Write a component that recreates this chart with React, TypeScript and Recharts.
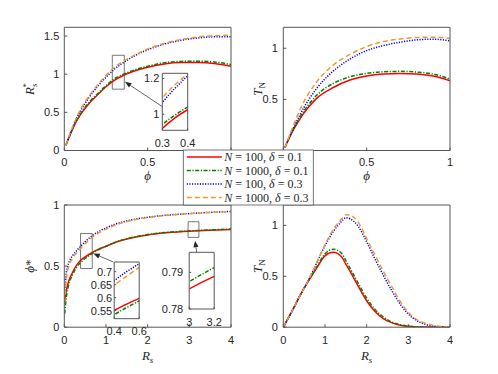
import React from 'react';
import { LineChart, Line, XAxis, YAxis, ReferenceArea, ReferenceLine, CartesianGrid } from 'recharts';

const W = 498;
const H = 374;

// ---------- data: R_s^* vs phi (top-left) ----------
const phiA = [0.01, 0.03, 0.05, 0.075, 0.1, 0.15, 0.2, 0.25, 0.3, 0.35, 0.4, 0.5, 0.6, 0.7, 0.8, 0.9, 1.0];
const rsN100d01 = [0.07, 0.18, 0.28, 0.39, 0.48, 0.62, 0.73, 0.835, 0.92, 0.98, 1.025, 1.09, 1.135, 1.152, 1.152, 1.14, 1.105];
const rsN1000d01 = [0.07, 0.185, 0.29, 0.4, 0.49, 0.635, 0.745, 0.85, 0.94, 0.995, 1.04, 1.105, 1.15, 1.168, 1.17, 1.16, 1.127];
const rsN100d03 = [0.07, 0.19, 0.3, 0.43, 0.53, 0.7, 0.84, 0.96, 1.065, 1.145, 1.215, 1.32, 1.395, 1.445, 1.475, 1.49, 1.49];
const rsN1000d03 = [0.07, 0.2, 0.31, 0.44, 0.55, 0.72, 0.86, 0.985, 1.09, 1.165, 1.225, 1.33, 1.405, 1.455, 1.488, 1.505, 1.51];

// ---------- data: T_N vs phi (top-right) ----------
const phiB = [0.01, 0.05, 0.1, 0.2, 0.3, 0.4, 0.5, 0.6, 0.7, 0.8, 0.9, 1.0];
const tnPhiN100d01 = [0.03, 0.17, 0.31, 0.51, 0.616, 0.689, 0.728, 0.748, 0.754, 0.748, 0.728, 0.682];
const tnPhiN1000d01 = [0.03, 0.175, 0.325, 0.54, 0.656, 0.721, 0.754, 0.77, 0.774, 0.767, 0.748, 0.698];
const tnPhiN100d03 = [0.03, 0.18, 0.35, 0.607, 0.777, 0.895, 0.977, 1.026, 1.059, 1.082, 1.089, 1.072];
const tnPhiN1000d03 = [0.03, 0.2, 0.4, 0.67, 0.836, 0.94, 1.016, 1.066, 1.09, 1.105, 1.108, 1.098];

// ---------- data: phi* vs R_s (bottom-left) ----------
const rsC = [0.01, 0.05, 0.1, 0.2, 0.3, 0.4, 0.5, 0.6, 0.8, 1.0, 1.25, 1.5, 2.0, 2.5, 3.0, 3.2, 3.5, 4.0];
const phN100d01 = [0.2, 0.3, 0.37, 0.45, 0.51, 0.55, 0.575, 0.597, 0.635, 0.663, 0.697, 0.722, 0.755, 0.774, 0.7855, 0.7889, 0.793, 0.8];
const phN1000d01 = [0.11, 0.25, 0.34, 0.43, 0.493, 0.533, 0.562, 0.587, 0.63, 0.662, 0.698, 0.724, 0.758, 0.777, 0.7875, 0.7913, 0.796, 0.803];
const phN100d03 = [0.3, 0.45, 0.52, 0.585, 0.628, 0.665, 0.7, 0.73, 0.778, 0.812, 0.846, 0.87, 0.9, 0.918, 0.93, 0.934, 0.94, 0.947];
const phN1000d03 = [0.2, 0.4, 0.49, 0.565, 0.61, 0.648, 0.683, 0.716, 0.766, 0.803, 0.839, 0.865, 0.897, 0.916, 0.929, 0.933, 0.939, 0.946];

// ---------- data: T_N vs R_s (bottom-right) ----------
const rsD = [0, 0.2, 0.4, 0.6, 0.8, 1.0, 1.2, 1.4, 1.5, 1.6, 1.8, 2.0, 2.2, 2.4, 2.6, 2.8, 3.0, 3.2, 3.4, 3.6, 3.8, 4.0];
const tnRsN100d01 = [0, 0.15, 0.31, 0.45, 0.58, 0.7, 0.735, 0.69, 0.62, 0.55, 0.4, 0.26, 0.155, 0.085, 0.045, 0.02, 0.009, 0.003, 0.001, 0, 0, 0];
const tnRsN1000d01 = [0, 0.15, 0.31, 0.455, 0.59, 0.72, 0.765, 0.725, 0.655, 0.58, 0.43, 0.285, 0.175, 0.1, 0.05, 0.025, 0.011, 0.004, 0.001, 0, 0, 0];
const tnRsN100d03 = [0, 0.15, 0.31, 0.46, 0.63, 0.8, 0.94, 1.04, 1.075, 1.065, 0.99, 0.84, 0.67, 0.51, 0.36, 0.23, 0.13, 0.065, 0.03, 0.012, 0.004, 0.001];
const tnRsN1000d03 = [0, 0.15, 0.31, 0.46, 0.635, 0.81, 0.96, 1.065, 1.105, 1.1, 1.03, 0.87, 0.71, 0.55, 0.4, 0.255, 0.145, 0.075, 0.04, 0.018, 0.007, 0.002];

// ---------- ticks ----------
const ticksPhi = [0, 0.5, 1];
const ticksRsStar = [0, 0.5, 1, 1.5];
const ticksTN = [0, 0.5, 1];
const ticksRs = [0, 1, 2, 3, 4];
const ticksPhiStar = [0, 0.5, 1];

const SERIES = [
  { key: 'a', n: '100', d: '0.1', color: '#ff0000', dash: undefined as string | undefined },
  { key: 'b', n: '1000', d: '0.1', color: '#008000', dash: '4 1.6 1.2 1.6' },
  { key: 'c', n: '100', d: '0.3', color: '#0000ff', dash: '1.2 1.4' },
  { key: 'd', n: '1000', d: '0.3', color: '#ef9a2f', dash: '5 3' },
];

const INK = '#262626';
const FRAME = '#555555';
const LW = 1.5;

function build(x: number[], ys: number[][]) {
  return x.map((v, i) => ({ x: v, a: ys[0][i], b: ys[1][i], c: ys[2][i], d: ys[3][i] }));
}

const dataTL = build(phiA, [rsN100d01, rsN1000d01, rsN100d03, rsN1000d03]);
const dataTR = build(phiB, [tnPhiN100d01, tnPhiN1000d01, tnPhiN100d03, tnPhiN1000d03]);
const dataBL = build(rsC, [phN100d01, phN1000d01, phN100d03, phN1000d03]);
const dataBR = build(rsD, [tnRsN100d01, tnRsN1000d01, tnRsN100d03, tnRsN1000d03]);

type Box = { l: number; r: number; t: number; b: number };

const BOX_TL: Box = { l: 64.3, r: 231, t: 27.3, b: 150.5 };
const BOX_TR: Box = { l: 283.3, r: 450, t: 27.3, b: 150.5 };
const BOX_BL: Box = { l: 64.3, r: 231, t: 205, b: 327.2 };
const BOX_BR: Box = { l: 283.3, r: 450, t: 205, b: 327.2 };
const BOX_I1: Box = { l: 162.3, r: 187.7, t: 73.3, b: 130.3 };
const BOX_I2: Box = { l: 114.2, r: 139.2, t: 262, b: 318.7 };
const BOX_I3: Box = { l: 189.2, r: 214.2, t: 252.3, b: 309 };

const Arrow = (p: any) => {
  const { x1, y1, x2, y2 } = p;
  const ang = Math.atan2(y2 - y1, x2 - x1);
  const len = 6.5;
  const w = 2.6;
  const bx = x2 - len * Math.cos(ang);
  const by = y2 - len * Math.sin(ang);
  const px = -Math.sin(ang) * w;
  const py = Math.cos(ang) * w;
  return (
    <g>
      <line x1={x1} y1={y1} x2={bx} y2={by} stroke={INK} strokeWidth={0.7} />
      <polygon points={`${x2},${y2} ${bx + px},${by + py} ${bx - px},${by - py}`} fill={INK} />
    </g>
  );
};

interface PanelProps {
  data: any[];
  box: Box;
  xDomain: [number, number];
  yDomain: [number, number];
  xTicks: number[];
  yTicks: number[];
  hideX?: number[];
  hideY?: number[];
  inset?: boolean;
  xTickMargin: number;
  yTickMargin: number;
  children?: React.ReactNode;
}

function Panel(p: PanelProps) {
  const { box } = p;
  const margin = { left: box.l - 1, top: box.t - 1, right: W - box.r - 1, bottom: H - box.b - 1 };
  const tickStyle = { fill: INK, fontSize: 11, fontFamily: 'Liberation Sans, Arial, sans-serif' };
  const ts = p.inset ? -2 : -3;
  const hx = p.hideX || [];
  const hy = p.hideY || [];
  const fx = (v: number) => (hx.includes(v) ? '' : String(v));
  const fy = (v: number) => (hy.includes(v) ? '' : String(v));
  return (
    <div style={{ position: 'absolute', left: 0, top: 0, width: W, height: H }}>
      <LineChart width={W} height={H} data={p.data} margin={margin}>
        {p.inset ? <CartesianGrid xAxisId="b" yAxisId="l" fill="#ffffff" horizontal={false} vertical={false} /> : null}
        <XAxis xAxisId="b" dataKey="x" type="number" domain={p.xDomain} ticks={p.xTicks} interval={0} height={1}
          tickSize={ts} tickMargin={p.xTickMargin} stroke={FRAME} tick={tickStyle} tickFormatter={fx} allowDataOverflow />
        <XAxis xAxisId="t" orientation="top" dataKey="x" type="number" domain={p.xDomain} ticks={p.xTicks} interval={0} height={1}
          tickSize={ts} stroke={FRAME} tick={false} allowDataOverflow />
        <YAxis yAxisId="l" type="number" domain={p.yDomain} ticks={p.yTicks} interval={0} width={1}
          tickSize={ts} tickMargin={p.yTickMargin} stroke={FRAME} tick={tickStyle} tickFormatter={fy} allowDataOverflow />
        <YAxis yAxisId="r" orientation="right" type="number" domain={p.yDomain} ticks={p.yTicks} interval={0} width={1}
          tickSize={ts} stroke={FRAME} tick={false} allowDataOverflow />
        {SERIES.map((s) => (
          <Line key={s.key} xAxisId="b" yAxisId="l" type="monotone" dataKey={s.key} stroke={s.color}
            strokeWidth={LW} strokeDasharray={s.dash} dot={false} activeDot={false} isAnimationActive={false} />
        ))}
        {p.children}
      </LineChart>
    </div>
  );
}

function Titles() {
  const serif = 'Liberation Serif, Times New Roman, serif';
  const yTitle = (cx: number, cy: number, node: React.ReactNode, key: string) => (
    <text key={key} transform={`translate(${cx},${cy}) rotate(-90)`} textAnchor="middle" fontFamily={serif} fontSize={13} fill={INK}>
      {node}
    </text>
  );
  const cxL = (BOX_TL.l + BOX_TL.r) / 2;
  const cxR = (BOX_TR.l + BOX_TR.r) / 2;
  const cyT = (BOX_TL.t + BOX_TL.b) / 2;
  const cyB = (BOX_BL.t + BOX_BL.b) / 2;
  const tn = (
    <>
      <tspan fontStyle="italic">T</tspan>
      <tspan fontSize={9} dy={3}>N</tspan>
    </>
  );
  return (
    <svg style={{ position: 'absolute', left: 0, top: 0 }} width={W} height={H}>
      {yTitle(BOX_TL.l - 30, cyT, (
        <>
          <tspan fontStyle="italic">R</tspan>
          <tspan fontSize={9} fontStyle="italic" dy={3}>s</tspan>
          <tspan fontSize={9} dx={-4} dy={-8}>*</tspan>
        </>
      ), 'tl')}
      {yTitle(BOX_TR.l - 21, cyT, tn, 'tr')}
      {yTitle(BOX_BL.l - 30, cyB, (
        <>
          <tspan fontStyle="italic">ϕ</tspan>
          <tspan>*</tspan>
        </>
      ), 'bl')}
      {yTitle(BOX_BR.l - 21, cyB, tn, 'br')}
      <text x={cxL} y={BOX_TL.b + 29} textAnchor="middle" fontFamily={serif} fontSize={13} fontStyle="italic" fill={INK}>ϕ</text>
      <text x={cxR} y={BOX_TR.b + 29} textAnchor="middle" fontFamily={serif} fontSize={13} fontStyle="italic" fill={INK}>ϕ</text>
      <text x={cxL} y={BOX_BL.b + 33} textAnchor="middle" fontFamily={serif} fontSize={13} fill={INK}>
        <tspan fontStyle="italic">R</tspan>
        <tspan fontSize={9} fontStyle="italic" dy={3}>s</tspan>
      </text>
      <text x={cxR} y={BOX_BR.b + 33} textAnchor="middle" fontFamily={serif} fontSize={13} fill={INK}>
        <tspan fontStyle="italic">R</tspan>
        <tspan fontSize={9} fontStyle="italic" dy={3}>s</tspan>
      </text>
    </svg>
  );
}

function LegendBox() {
  const x0 = 183.3;
  const y0 = 150;
  const w = 130;
  const h = 55;
  return (
    <svg style={{ position: 'absolute', left: 0, top: 0 }} width={W} height={H}>
      <rect x={x0} y={y0} width={w} height={h} fill="#ffffff" stroke={FRAME} strokeWidth={0.8} />
      {SERIES.map((s, i) => {
        const cy = y0 + 7 + i * 13.5;
        return (
          <g key={s.key}>
            <line x1={x0 + 3.5} x2={x0 + 38.5} y1={cy} y2={cy} stroke={s.color} strokeWidth={LW} strokeDasharray={s.dash} />
            <text x={x0 + 41} y={cy + 4} fontFamily="Liberation Serif, Times New Roman, serif" fontSize={12} fill={INK}>
              <tspan fontStyle="italic">N</tspan>
              <tspan>{` = ${s.n}, `}</tspan>
              <tspan fontStyle="italic">δ</tspan>
              <tspan>{` = ${s.d}`}</tspan>
            </text>
          </g>
        );
      })}
    </svg>
  );
}

export default function App() {
  return (
    <div style={{ position: 'absolute', left: 0, top: 0, width: W, height: H, background: '#ffffff', overflow: 'hidden' }}>
      <Panel data={dataTL} box={BOX_TL} xDomain={[0, 1]} yDomain={[0, 1.615]} xTicks={ticksPhi} yTicks={ticksRsStar}
        hideX={[1]} xTickMargin={11} yTickMargin={8}>
        <ReferenceArea xAxisId="b" yAxisId="l" x1={0.288} x2={0.36} y1={0.804} y2={1.248} fill="none" stroke={FRAME} strokeWidth={0.8} ifOverflow="visible" />
        <ReferenceLine xAxisId="b" yAxisId="l" segment={[{ x: 0.59, y: 0.572 }, { x: 0.364, y: 0.9 }]} ifOverflow="visible" shape={Arrow} />
      </Panel>
      <Panel data={dataTR} box={BOX_TR} xDomain={[0, 1]} yDomain={[0, 1.205]} xTicks={ticksPhi} yTicks={ticksTN}
        hideX={[0]} hideY={[0]} xTickMargin={11} yTickMargin={8.5} />
      <Panel data={dataBL} box={BOX_BL} xDomain={[0, 4]} yDomain={[0, 1]} xTicks={ticksRs} yTicks={ticksPhiStar}
        xTickMargin={12} yTickMargin={8}>
        <ReferenceArea xAxisId="b" yAxisId="l" x1={0.39} x2={0.67} y1={0.48} y2={0.767} fill="none" stroke={FRAME} strokeWidth={0.8} ifOverflow="visible" />
        <ReferenceArea xAxisId="b" yAxisId="l" x1={2.97} x2={3.23} y1={0.735} y2={0.863} fill="none" stroke={FRAME} strokeWidth={0.8} ifOverflow="visible" />
        <ReferenceLine xAxisId="b" yAxisId="l" segment={[{ x: 1.176, y: 0.534 }, { x: 0.696, y: 0.603 }]} ifOverflow="visible" shape={Arrow} />
        <ReferenceLine xAxisId="b" yAxisId="l" segment={[{ x: 3.177, y: 0.612 }, { x: 3.137, y: 0.707 }]} ifOverflow="visible" shape={Arrow} />
      </Panel>
      <Panel data={dataBR} box={BOX_BR} xDomain={[0, 4]} yDomain={[0, 1.2]} xTicks={ticksRs} yTicks={ticksTN}
        xTickMargin={12} yTickMargin={8.5} />
      <Panel data={dataTL} box={BOX_I1} xDomain={[0.3, 0.4]} yDomain={[0.91, 1.229]} xTicks={[0.3, 0.4]} yTicks={[1, 1.2]}
        inset xTickMargin={11} yTickMargin={5} />
      <Panel data={dataBL} box={BOX_I2} xDomain={[0.4, 0.6]} yDomain={[0.519, 0.737]} xTicks={[0.4, 0.6]} yTicks={[0.55, 0.6, 0.65, 0.7]}
        inset xTickMargin={10.5} yTickMargin={4} />
      <Panel data={dataBL} box={BOX_I3} xDomain={[3, 3.2]} yDomain={[0.78, 0.7955]} xTicks={[3, 3.2]} yTicks={[0.78, 0.79]}
        inset xTickMargin={11} yTickMargin={8} />
      <Titles />
      <LegendBox />
    </div>
  );
}
